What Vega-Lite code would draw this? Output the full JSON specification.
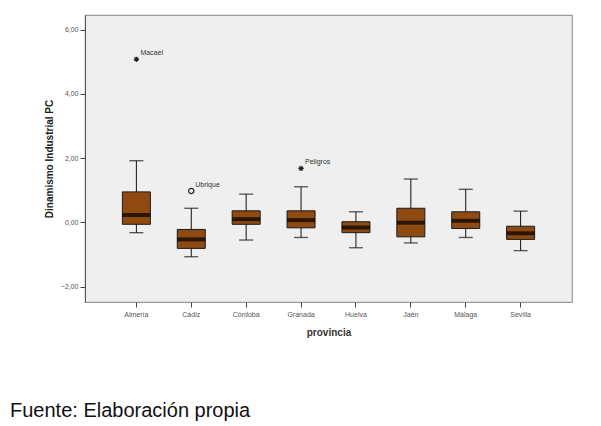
{
  "$schema": "https://vega.github.io/schema/vega-lite/v6.json",
  "autosize": "none",
  "width": 487,
  "height": 287,
  "padding": {"left": 85, "top": 15, "right": 29, "bottom": 124},
  "background": "white",
  "config": {
    "font": "Liberation Sans",
    "view": {"fill": "#efefef", "stroke": "#9a9a9a", "strokeWidth": 1.2}
  },
  "title": {
    "text": "Fuente: Elaboración propia",
    "orient": "bottom",
    "anchor": "start",
    "frame": "group",
    "dx": -75,
    "offset": 64,
    "fontSize": 20,
    "fontWeight": "normal",
    "font": "Liberation Sans",
    "color": "#111"
  },
  "datasets": {
    "boxes": [
      {"provincia": "Almería", "min": -0.32, "q1": -0.06, "median": 0.23, "q3": 0.95, "max": 1.92},
      {"provincia": "Cádiz", "min": -1.07, "q1": -0.81, "median": -0.53, "q3": -0.22, "max": 0.44},
      {"provincia": "Córdoba", "min": -0.55, "q1": -0.06, "median": 0.1, "q3": 0.36, "max": 0.88},
      {"provincia": "Granada", "min": -0.47, "q1": -0.17, "median": 0.07, "q3": 0.36, "max": 1.11},
      {"provincia": "Huelva", "min": -0.79, "q1": -0.32, "median": -0.16, "q3": 0.02, "max": 0.33},
      {"provincia": "Jaén", "min": -0.64, "q1": -0.45, "median": -0.01, "q3": 0.44, "max": 1.35},
      {"provincia": "Málaga", "min": -0.47, "q1": -0.19, "median": 0.05, "q3": 0.33, "max": 1.03},
      {"provincia": "Sevilla", "min": -0.88, "q1": -0.53, "median": -0.34, "q3": -0.12, "max": 0.35}
    ],
    "outliers": [
      {"provincia": "Almería", "valor": 5.08, "etiqueta": "Macael", "tipo": "extremo"},
      {"provincia": "Cádiz", "valor": 0.98, "etiqueta": "Ubrique", "tipo": "atípico"},
      {"provincia": "Granada", "valor": 1.68, "etiqueta": "Peligros", "tipo": "extremo"}
    ]
  },
  "encoding": {
    "x": {
      "field": "provincia",
      "type": "nominal",
      "sort": ["Almería", "Cádiz", "Córdoba", "Granada", "Huelva", "Jaén", "Málaga", "Sevilla"],
      "scale": {"paddingInner": 0.2, "paddingOuter": 0.536},
      "axis": {
        "title": "provincia",
        "titleFontSize": 10,
        "titleFontWeight": "bold",
        "titleColor": "#333",
        "titlePadding": 10,
        "labelAngle": 0,
        "labelFontSize": 7,
        "labelColor": "#555",
        "labelPadding": 3,
        "tickColor": "#444",
        "tickSize": 5,
        "domain": false,
        "grid": false
      }
    }
  },
  "layer": [
    {
      "data": {"name": "boxes"},
      "mark": {"type": "rule", "color": "#111", "strokeWidth": 1},
      "encoding": {
        "y": {
          "field": "min",
          "type": "quantitative",
          "scale": {"domain": [-2.48, 6.46], "nice": false, "zero": false},
          "axis": {
            "title": "Dinamismo Industrial PC",
            "titleFontSize": 10,
            "titleFontWeight": "bold",
            "titleColor": "#222",
            "titlePadding": 6,
            "values": [-2, 0, 2, 4, 6],
            "labelExpr": "replace(format(datum.value, '.2f'), '.', ',')",
            "labelFontSize": 7,
            "labelColor": "#555",
            "labelPadding": 2,
            "tickColor": "#444",
            "tickSize": 5,
            "domainColor": "#555",
            "grid": false
          }
        },
        "y2": {"field": "max"}
      }
    },
    {
      "data": {"name": "boxes"},
      "mark": {"type": "tick", "color": "#111", "size": 14, "thickness": 1.3, "orient": "horizontal"},
      "encoding": {"y": {"field": "min", "type": "quantitative"}}
    },
    {
      "data": {"name": "boxes"},
      "mark": {"type": "tick", "color": "#111", "size": 14, "thickness": 1.3, "orient": "horizontal"},
      "encoding": {"y": {"field": "max", "type": "quantitative"}}
    },
    {
      "data": {"name": "boxes"},
      "mark": {"type": "bar", "size": 28, "fill": "#8f4a12", "stroke": "#1a1a1a", "strokeWidth": 1},
      "encoding": {
        "y": {"field": "q1", "type": "quantitative"},
        "y2": {"field": "q3"}
      }
    },
    {
      "data": {"name": "boxes"},
      "mark": {"type": "tick", "color": "#000", "size": 28, "thickness": 4, "orient": "horizontal"},
      "encoding": {"y": {"field": "median", "type": "quantitative"}}
    },
    {
      "data": {"name": "outliers"},
      "mark": {"type": "point", "filled": false, "stroke": "#222", "strokeWidth": 1.2, "size": 28, "opacity": 1},
      "encoding": {
        "y": {"field": "valor", "type": "quantitative"},
        "shape": {
          "field": "tipo",
          "type": "nominal",
          "scale": {
            "domain": ["extremo", "atípico"],
            "range": ["M-1,0L1,0M0,-1L0,1M-0.7,-0.7L0.7,0.7M-0.7,0.7L0.7,-0.7", "circle"]
          },
          "legend": null
        }
      }
    },
    {
      "data": {"name": "outliers"},
      "mark": {"type": "text", "align": "left", "baseline": "bottom", "dx": 4, "dy": -3, "fontSize": 7, "color": "#333"},
      "encoding": {
        "y": {"field": "valor", "type": "quantitative"},
        "text": {"field": "etiqueta"}
      }
    }
  ]
}
